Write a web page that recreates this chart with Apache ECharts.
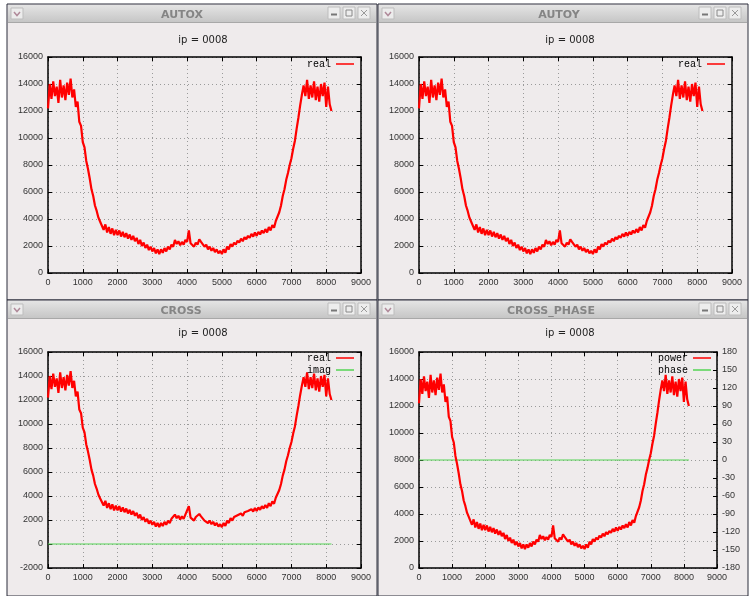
<!DOCTYPE html>
<html>
<head>
<meta charset="utf-8">
<script src="https://cdn.jsdelivr.net/npm/echarts@6/dist/echarts.min.js"></script>
<style>
html,body{margin:0;padding:0;background:#ffffff;}
#chart{width:752px;height:596px;}
</style>
</head>
<body>
<div id="chart"></div>
<script>
// ---- data ----
const SAMPLE_STEP = 50; // spacing of the samples along x
const realValues = [
  12200,14000,12900,14200,13100,13800,12600,14300,13000,13900,
  12800,14100,13200,14400,13000,13600,12300,12700,11200,10900,
  9700,9300,8300,7700,7000,6200,5700,5000,4600,4100,
  3800,3700,3200,3600,3000,3400,2900,3300,2800,3200,
  2800,3150,2700,3050,2650,2950,2550,2850,2450,2750,
  2350,2600,2150,2450,2000,2250,1850,2100,1700,1950,
  1600,1850,1450,1750,1400,1750,1500,1850,1600,1950,
  1750,2100,1950,2450,2150,2350,2050,2300,2100,2450,
  2300,3150,2200,2150,1950,2250,2100,2500,2300,2350,
  1950,2100,1750,1950,1650,1850,1550,1750,1450,1650,
  1400,1750,1500,1950,1750,2150,1950,2250,2100,2400,
  2250,2550,2350,2650,2500,2750,2600,2900,2700,3000,
  2750,3050,2850,3150,2950,3250,3000,3400,3150,3550,
  3350,3850,3900,4500,5000,5700,6200,6900,7400,8000,
  8500,9200,9800,10700,11500,12400,13200,13900,13100,14300,
  12900,13900,13000,14200,12800,13800,12700,14000,13100,14100,
  12300,13800,12500,12000
];
const zeroLineX = [0, 8150];
const zeroLineValues = [0, 0];

const windowTitles = ['AUTOX', 'AUTOY', 'CROSS', 'CROSS_PHASE'];
const plotTitle = 'ip = 0008';
const xTicks = [0, 9000, 1000];
const yTicksStd = [0, 16000, 2000];
const yTicksCross = [-2000, 16000, 2000];
const phaseTicks = [-180, 180, 30];

// ---- build ----
const realData = realValues.map((v, i) => [i * SAMPLE_STEP, v]);
const zeroData = zeroLineX.map((x, i) => [x, zeroLineValues[i]]);

const FONT = 'Liberation Sans';
const MONO = 'Liberation Mono';
const RED = '#ff0000';
const GREEN = '#55d455';

const grids = [
  {left: 48, top: 57, width: 313, height: 216},
  {left: 419, top: 57, width: 313, height: 216},
  {left: 48, top: 352, width: 313, height: 216},
  {left: 419, top: 352, width: 298, height: 216}
];

const frameLine = {show: true, onZero: false, lineStyle: {color: '#000', width: 1.5}};
const inTick = {show: true, inside: true, length: 4, lineStyle: {color: '#000', width: 1}};
const lbl = {fontFamily: FONT, fontSize: 9, color: '#333', margin: 5, formatter: v => String(v)};
const gridLine = {show: true, lineStyle: {color: '#9a9a9a', width: 1, type: [1, 3]}};

const xAxes = [], yAxes = [];
grids.forEach((g, gi) => {
  xAxes.push({gridIndex: gi, type: 'value', position: 'bottom', min: xTicks[0], max: xTicks[1], interval: xTicks[2],
    axisLine: frameLine, axisTick: inTick, axisLabel: lbl, splitLine: gridLine});
  xAxes.push({gridIndex: gi, type: 'value', position: 'top', min: xTicks[0], max: xTicks[1], interval: xTicks[2],
    axisLine: frameLine, axisTick: inTick, axisLabel: {show: false}, splitLine: {show: false}});
  const yr = gi === 2 ? yTicksCross : yTicksStd;
  yAxes.push({gridIndex: gi, type: 'value', position: 'left', min: yr[0], max: yr[1], interval: yr[2],
    axisLine: frameLine, axisTick: inTick, axisLabel: lbl, splitLine: gridLine});
  if (gi === 3) {
    yAxes.push({gridIndex: gi, type: 'value', position: 'right', min: phaseTicks[0], max: phaseTicks[1], interval: phaseTicks[2],
      axisLine: frameLine, axisTick: inTick, axisLabel: lbl, splitLine: {show: false}});
  } else {
    yAxes.push({gridIndex: gi, type: 'value', position: 'right', min: yr[0], max: yr[1], interval: yr[2],
      axisLine: frameLine, axisTick: inTick, axisLabel: {show: false}, splitLine: {show: false}});
  }
});

const redNames = ['real', 'real', 'real', 'power'];
const series = [];
grids.forEach((g, gi) => {
  series.push({name: redNames[gi], type: 'line', xAxisIndex: 2 * gi, yAxisIndex: 2 * gi, data: realData,
    symbol: 'none', color: RED, lineStyle: {color: RED, width: 2.2}, z: 3});
});
series.push({name: 'imag', type: 'line', xAxisIndex: 4, yAxisIndex: 4, data: zeroData,
  symbol: 'none', color: GREEN, lineStyle: {color: GREEN, width: 1.2}, z: 2});
series.push({name: 'phase', type: 'line', xAxisIndex: 6, yAxisIndex: 7, data: zeroData,
  symbol: 'none', color: GREEN, lineStyle: {color: GREEN, width: 1.2}, z: 2});

const legendBase = {orient: 'vertical', align: 'right', icon: 'rect', itemWidth: 18, itemHeight: 1.5,
  itemGap: 2, padding: 0, textStyle: {fontFamily: MONO, fontSize: 10, color: '#000'}};
const legends = [
  Object.assign({}, legendBase, {data: ['real'], right: 752 - 354, top: 59}),
  Object.assign({}, legendBase, {data: ['real'], right: 752 - 725, top: 59}),
  Object.assign({}, legendBase, {data: ['real', 'imag'], right: 752 - 354, top: 353}),
  Object.assign({}, legendBase, {data: ['power', 'phase'], right: 752 - 711, top: 353})
];

const titles = [
  {x: 203, y: 35}, {x: 570, y: 35}, {x: 203, y: 328}, {x: 570, y: 328}
].map(p => ({text: plotTitle, left: p.x, top: p.y, textAlign: 'center', padding: 0,
  textStyle: {fontFamily: 'DejaVu Sans', fontSize: 10, fontWeight: 'normal', color: '#222'}}));

// window chrome
const wins = [
  {x: 7, y: 4, cx: 182}, {x: 378, y: 4, cx: 559}, {x: 7, y: 300, cx: 181}, {x: 378, y: 300, cx: 551}
];
const graphics = [];
wins.forEach((w, i) => {
  graphics.push({type: 'rect', z: 0, shape: {x: w.x, y: w.y, width: 370, height: 296},
    style: {fill: '#efebec', stroke: '#2b2d3a', lineWidth: 1}});
  graphics.push({type: 'rect', z: 0, shape: {x: w.x + 1, y: w.y + 1, width: 368, height: 17},
    style: {fill: {type: 'linear', x: 0, y: 0, x2: 0, y2: 1,
      colorStops: [{offset: 0, color: '#e4e4e4'}, {offset: 1, color: '#c6c6c6'}]}}});
  graphics.push({type: 'line', z: 0, shape: {x1: w.x + 1, y1: w.y + 18.5, x2: w.x + 369, y2: w.y + 18.5},
    style: {stroke: '#a8a8a8', lineWidth: 1}});
  graphics.push({type: 'text', z: 1, x: w.cx, y: w.y + 11, style: {text: windowTitles[i], fill: '#858585',
    font: 'bold 11px "DejaVu Sans"', textAlign: 'center', textVerticalAlign: 'middle'}});
  // left menu icon
  graphics.push({type: 'rect', z: 1, shape: {x: w.x + 4, y: w.y + 4, width: 12, height: 11},
    style: {fill: '#ececec', stroke: '#bdbdbd', lineWidth: 1}});
  graphics.push({type: 'polyline', z: 1, shape: {points: [[w.x + 7, w.y + 8], [w.x + 10, w.y + 11.5], [w.x + 13, w.y + 8]]},
    style: {stroke: '#b08a9a', lineWidth: 1.5, fill: null}});
  // right buttons
  [321, 336, 351].forEach((bx, k) => {
    graphics.push({type: 'rect', z: 1, shape: {x: w.x + bx, y: w.y + 3, width: 12, height: 12},
      style: {fill: '#ededed', stroke: '#bdbdbd', lineWidth: 1}});
    const cx = w.x + bx + 6, cy = w.y + 9;
    if (k === 0) {
      graphics.push({type: 'line', z: 1, shape: {x1: cx - 3, y1: cy + 1.5, x2: cx + 3, y2: cy + 1.5},
        style: {stroke: '#777', lineWidth: 2}});
    } else if (k === 1) {
      graphics.push({type: 'rect', z: 1, shape: {x: cx - 3, y: cy - 3, width: 6, height: 6},
        style: {fill: null, stroke: '#888', lineWidth: 1}});
    } else {
      graphics.push({type: 'line', z: 1, shape: {x1: cx - 3, y1: cy - 3, x2: cx + 3, y2: cy + 3},
        style: {stroke: '#999', lineWidth: 1}});
      graphics.push({type: 'line', z: 1, shape: {x1: cx + 3, y1: cy - 3, x2: cx - 3, y2: cy + 3},
        style: {stroke: '#999', lineWidth: 1}});
    }
  });
});

const chart = echarts.init(document.getElementById('chart'), null, {renderer: 'canvas'});
chart.setOption({
  animation: false,
  backgroundColor: '#ffffff',
  title: titles,
  legend: legends,
  grid: grids,
  xAxis: xAxes,
  yAxis: yAxes,
  series: series,
  graphic: {elements: graphics}
});
</script>
</body>
</html>
